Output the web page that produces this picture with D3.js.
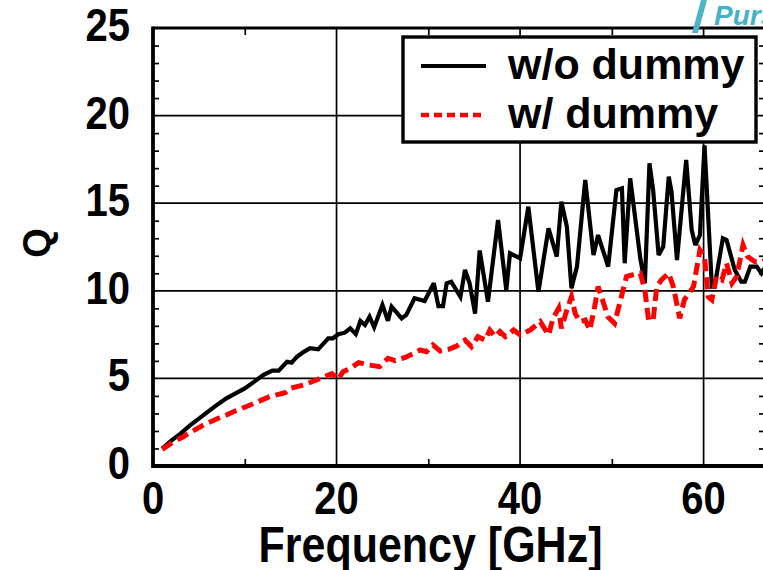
<!DOCTYPE html>
<html>
<head>
<meta charset="utf-8">
<script src="https://cdn.jsdelivr.net/npm/d3@7"></script>
<style>
  html, body { margin: 0; padding: 0; background: #fff; }
  svg { display: block; }
  text { font-family: "Liberation Sans", Arial, sans-serif; font-weight: bold; }
</style>
</head>
<body>
<script>
// ---------- data ----------
const freqBlack = [1, 2, 3, 4, 5, 6, 7, 8, 9, 10, 11, 12, 13, 13.7, 14.6, 15.1, 15.7, 16.4, 17.1, 18, 19.1, 19.6, 20.2, 20.9, 21.5, 22.1, 22.6, 23.1, 23.6, 24.1, 25.0, 25.6, 26.0, 27.1, 27.6, 28.5, 29.6, 30.6, 31.1, 31.6, 32.0, 32.5, 33.5, 34.0, 34.5, 35.1, 35.6, 36.5, 37.6, 38.5, 38.9, 40.0, 40.9, 42.0, 43.1, 44.0, 44.5, 45.1, 45.6, 46.2, 47.1, 48.0, 48.5, 49.6, 50.5, 51.1, 51.4, 52.0, 53.1, 53.6, 54.1, 54.5, 55.1, 55.6, 56.2, 56.5, 57.1, 58.1, 58.7, 59.1, 59.6, 60.1, 60.9, 61.2, 62.1, 62.5, 63.4, 64.1, 64.5, 65.1, 65.8, 66.3, 67];
const qBlack    = [1.0, 1.45, 1.85, 2.3, 2.7, 3.1, 3.5, 3.86, 4.15, 4.43, 4.8, 5.19, 5.44, 5.44, 5.95, 5.9, 6.24, 6.5, 6.72, 6.66, 7.29, 7.29, 7.52, 7.61, 7.86, 7.53, 8.28, 8.05, 8.52, 7.92, 9.19, 8.29, 9.09, 8.43, 8.62, 9.57, 9.42, 10.43, 9.13, 9.13, 10.43, 10.52, 9.66, 11.19, 10.43, 8.7, 12.3, 9.38, 14.04, 10.05, 12.14, 11.85, 14.8, 9.95, 13.57, 11.95, 15.09, 13.66, 10.14, 11.38, 16.32, 12.04, 13.18, 11.38, 15.75, 15.85, 11.57, 16.42, 11.85, 10.43, 17.28, 15.75, 12.04, 12.52, 16.51, 15.66, 11.76, 17.47, 13.47, 12.61, 13.18, 18.3, 10.24, 10.24, 13.0, 12.9, 11.19, 10.52, 10.52, 11.38, 11.38, 11.0, 11.6];

const freqRed = [1, 2, 3.3, 4, 5.5, 7, 8, 9, 10.6, 12.7, 14.4, 14.9, 16.4, 17.8, 19.5, 20.2, 20.7, 21.5, 22.4, 23.6, 24.7, 25.6, 26.4, 27.5, 28.4, 29.1, 29.8, 30.5, 31.3, 32.2, 33.1, 34.0, 34.7, 35.4, 36.2, 36.7, 37.3, 37.8, 38.4, 39.3, 40.0, 41.1, 42.2, 43.1, 43.6, 44.2, 44.5, 45.1, 45.6, 46.0, 46.5, 47.1, 47.6, 48.2, 48.5, 49.1, 49.6, 50.3, 51.6, 52.2, 53.1, 53.6, 54.0, 54.5, 54.9, 55.4, 56.2, 56.7, 57.4, 57.9, 58.9, 59.6, 60.1, 60.5, 60.9, 61.4, 62.0, 62.5, 63.1, 63.6, 64.3, 64.8, 65.6, 66.3, 67];
const qRed    = [0.95, 1.3, 1.67, 1.9, 2.34, 2.7, 2.91, 3.15, 3.48, 3.96, 4.18, 4.43, 4.62, 4.91, 5.27, 4.95, 5.38, 5.57, 5.9, 5.76, 5.67, 6.15, 6.01, 6.2, 6.43, 6.62, 6.52, 6.91, 6.56, 6.66, 6.85, 7.19, 6.81, 7.38, 7.19, 7.76, 7.38, 7.67, 7.38, 7.76, 7.48, 7.76, 8.24, 7.48, 8.43, 9.0, 7.86, 8.9, 9.66, 8.71, 8.24, 8.33, 7.76, 9.29, 10.24, 9.29, 8.5, 8.14, 10.81, 10.9, 11.0, 10.05, 8.33, 8.33, 10.24, 10.62, 11.0, 10.24, 8.43, 9.48, 10.24, 12.33, 11.95, 9.66, 9.48, 10.81, 10.62, 11.57, 10.43, 10.81, 12.61, 11.95, 11.66, 11.66, 11.8];

const seriesNames = ["w/o dummy", "w/ dummy"];
const xTickLabels = [0, 20, 40, 60];
const xMinorTicks = [10, 30, 50];
const yTickLabels = [0, 5, 10, 15, 20, 25];
const yGrid = [5, 10, 15, 20];
const yMinorTicks = d3.range(1, 25).filter(v => v % 5 !== 0);
const xTitle = "Frequency [GHz]";
const yTitle = "Q";

// ---------- layout ----------
const W = 763, H = 570;
const L = 153, R = 766, T = 28, B = 466;

const svg = d3.select("body").append("svg").attr("width", W).attr("height", H);

const x = d3.scaleLinear().domain([0, 66.8]).range([L, R]);
const y = d3.scaleLinear().domain([0, 25]).range([B, T]);

// grid lines
svg.append("g").selectAll("line.gx").data(xTickLabels.filter(v => v > 0)).join("line")
  .attr("x1", d => x(d)).attr("x2", d => x(d)).attr("y1", T).attr("y2", B)
  .attr("stroke", "#000").attr("stroke-width", 1.7);
svg.append("g").selectAll("line.gy").data(yGrid).join("line")
  .attr("x1", L).attr("x2", R).attr("y1", d => y(d)).attr("y2", d => y(d))
  .attr("stroke", "#000").attr("stroke-width", 1.7);

// minor ticks via d3 axes (inward)
function tickAxis(axis, transform) {
  const g = svg.append("g").attr("transform", transform).call(axis);
  g.select(".domain").remove();
  g.selectAll(".tick text").remove();
  g.selectAll(".tick line").attr("stroke", "#000").attr("stroke-width", 1.7);
  return g;
}
tickAxis(d3.axisLeft(y).tickValues(yMinorTicks).tickSize(-6), `translate(${L},0)`);
tickAxis(d3.axisRight(y).tickValues(yMinorTicks).tickSize(-7), `translate(${R},0)`);
tickAxis(d3.axisBottom(x).tickValues(xMinorTicks).tickSize(-7), `translate(0,${B})`);
tickAxis(d3.axisTop(x).tickValues(xMinorTicks).tickSize(-7), `translate(0,${T})`);

// data lines
svg.append("clipPath").attr("id", "plotclip").append("rect")
  .attr("x", L).attr("y", T).attr("width", R - L).attr("height", B - T);

const line = d3.line().x(d => x(d[0])).y(d => y(d[1]));
const blackData = freqBlack.map((f, i) => [f, qBlack[i]]);
const redData = freqRed.map((f, i) => [f, qRed[i]]);

const plot = svg.append("g").attr("clip-path", "url(#plotclip)");
plot.append("path").datum(blackData).attr("d", line)
  .attr("fill", "none").attr("stroke", "#000").attr("stroke-width", 4.2)
  .attr("stroke-linejoin", "miter").attr("stroke-miterlimit", 3);
plot.append("path").datum(redData).attr("d", line)
  .attr("fill", "none").attr("stroke", "#ff0000").attr("stroke-width", 5)
  .attr("stroke-dasharray", "12,6").attr("stroke-linejoin", "miter");

// frame
svg.append("line").attr("x1", L).attr("x2", R).attr("y1", T).attr("y2", T).attr("stroke", "#000").attr("stroke-width", 3.2);
svg.append("line").attr("x1", L).attr("x2", R).attr("y1", B).attr("y2", B).attr("stroke", "#000").attr("stroke-width", 3.8);
svg.append("line").attr("x1", L).attr("x2", L).attr("y1", T - 1.6).attr("y2", B + 1.9).attr("stroke", "#000").attr("stroke-width", 3.8);
svg.append("line").attr("x1", R).attr("x2", R).attr("y1", T).attr("y2", B).attr("stroke", "#000").attr("stroke-width", 3);

// tick labels
const stretch = 1.14;
function stext(xp, yp, str, size, anchor) {
  return svg.append("text")
    .attr("transform", `translate(${xp},${yp}) scale(1,${stretch})`)
    .attr("text-anchor", anchor).attr("font-size", size).attr("fill", "#000").text(str);
}
yTickLabels.forEach(v => stext(130, y(v) + 13, v, 40, "end"));
xTickLabels.forEach(v => stext(x(v), 514, v, 40, "middle"));
stext((L + 708) / 2, 562, xTitle, 43, "middle");
svg.append("text").attr("transform", `translate(50,243) rotate(-90)`)
  .attr("text-anchor", "middle").attr("font-size", 38).text(yTitle);

// legend
const lg = svg.append("g");
lg.append("rect").attr("x", 403).attr("y", 37).attr("width", 353).attr("height", 105)
  .attr("fill", "#fff").attr("stroke", "#000").attr("stroke-width", 3.4);
lg.append("line").attr("x1", 421).attr("x2", 486).attr("y1", 66).attr("y2", 66)
  .attr("stroke", "#000").attr("stroke-width", 4);
lg.append("line").attr("x1", 421).attr("x2", 486).attr("y1", 115).attr("y2", 115)
  .attr("stroke", "#ff0000").attr("stroke-width", 4.5).attr("stroke-dasharray", "8,5");
lg.append("text").attr("x", 508).attr("y", 79).attr("font-size", 43).text(seriesNames[0]);
lg.append("text").attr("x", 508).attr("y", 128).attr("font-size", 43).text(seriesNames[1]);

// watermark fragment
svg.append("polygon").attr("points", "701,0 707,0 698,33 692,33").attr("fill", "#4db6c6");
svg.append("text").attr("x", 714).attr("y", 25).attr("font-size", 28)
  .attr("font-style", "italic").attr("font-weight", "bold").attr("fill", "#45b3c6").text("Purs");
</script>
</body>
</html>
